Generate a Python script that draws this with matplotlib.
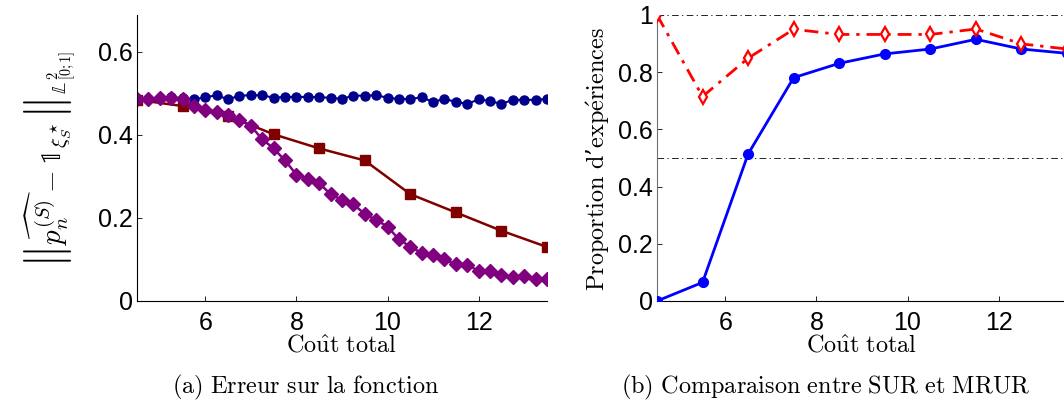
import matplotlib
matplotlib.use("Agg")
import matplotlib.pyplot as plt

plt.rcParams['mathtext.fontset'] = 'cm'
plt.rcParams['font.family'] = ['Liberation Sans', 'DejaVu Sans']

# --- (a) erreur sur la fonction ---
cout_fin = [4.5, 4.75, 5.0, 5.25, 5.5, 5.75, 6.0, 6.25, 6.5, 6.75, 7.0, 7.25,
            7.5, 7.75, 8.0, 8.25, 8.5, 8.75, 9.0, 9.25, 9.5, 9.75, 10.0, 10.25,
            10.5, 10.75, 11.0, 11.25, 11.5, 11.75, 12.0, 12.25, 12.5, 12.75,
            13.0, 13.25, 13.5]
cout_gros = [4.5, 5.5, 6.5, 7.5, 8.5, 9.5, 10.5, 11.5, 12.5, 13.5]

err_bleu = [0.485, 0.485, 0.488, 0.490, 0.488, 0.485, 0.490, 0.495, 0.485, 0.494,
            0.495, 0.495, 0.489, 0.491, 0.491, 0.491, 0.490, 0.489, 0.486, 0.494,
            0.494, 0.495, 0.489, 0.486, 0.486, 0.490, 0.479, 0.486, 0.479, 0.474,
            0.485, 0.481, 0.474, 0.484, 0.484, 0.484, 0.486]
err_rouge = [0.484, 0.469, 0.445, 0.401, 0.367, 0.338, 0.257, 0.213, 0.169, 0.130]
err_violet = [0.485, 0.485, 0.488, 0.489, 0.486, 0.469, 0.460, 0.454, 0.448, 0.436,
              0.421, 0.389, 0.367, 0.338, 0.304, 0.294, 0.283, 0.257, 0.243, 0.233,
              0.209, 0.195, 0.179, 0.148, 0.131, 0.115, 0.111, 0.100, 0.088, 0.087,
              0.072, 0.071, 0.063, 0.057, 0.059, 0.054, 0.052]

# --- (b) comparaison SUR / MRUR ---
prop_sur = [0.0, 0.065, 0.514, 0.781, 0.831, 0.864, 0.881, 0.915, 0.881, 0.866]
prop_mrur = [1.0, 0.715, 0.849, 0.950, 0.932, 0.932, 0.932, 0.951, 0.899, 0.881]
seuils = [1.0, 0.5]

W, H = 1064, 405
fig = plt.figure(figsize=(W / 100, H / 100), dpi=100)

ax1 = fig.add_axes([137 / W, 104 / H, 410 / W, 286 / H])
ax2 = fig.add_axes([657 / W, 104 / H, 410 / W, 286 / H])

ax1.plot(cout_fin, err_bleu, '-o', color='#00008b', lw=1.5, ms=6.5)
ax1.plot(cout_gros, err_rouge, '-s', color='#800000', lw=1.8, ms=6.5)
ax1.plot(cout_fin, err_violet, '-D', color='#800080', lw=1.8, ms=7.5)
ax1.set_ylim(0, 0.688)
ax1.set_yticks([0, 0.2, 0.4, 0.6])
ax1.set_yticklabels(['0', '0.2', '0.4', '0.6'])

for y in seuils:
    ax2.axhline(y, color='black', lw=0.6, ls=(0, (8, 4, 1.5, 4)), zorder=1)
ax2.plot(cout_gros, prop_sur, '-o', color='#0000ff', lw=2, ms=7, zorder=3)
ax2.plot(cout_gros, prop_mrur, ls=(0, (5, 2.5, 1.2, 2.5)), marker='d', color='#ff0000',
         lw=2, ms=7.5, mfc='white', mec='#ff0000', mew=1.6, zorder=4)
ax2.set_ylim(0, 1)
ax2.set_yticks([0, 0.2, 0.4, 0.6, 0.8, 1])
ax2.set_yticklabels(['0', '0.2', '0.4', '0.6', '0.8', '1'])

for ax in (ax1, ax2):
    ax.set_xlim(4.5, 13.5)
    ax.set_xticks([6, 8, 10, 12])
    ax.spines['top'].set_visible(False)
    ax.spines['right'].set_visible(False)
    ax.spines['bottom'].set_linewidth(0.8)
    ax.spines['left'].set_linewidth(0.8)
    ax.tick_params(direction='in', length=3.5, width=0.6, labelsize=18)
    ax.tick_params(axis='x', pad=7)
    ax.tick_params(axis='y', pad=3)
    for lab in ax.get_xticklabels() + ax.get_yticklabels():
        lab.set_family('Liberation Sans')
ax2.spines['left'].set_color('#707070')

# textes en style LaTeX
fig.text(342 / W, 1 - 352 / H, r'$\mathrm{Co\hat{u}t\ total}$', ha='center',
         va='baseline', fontsize=17.5)
fig.text(862 / W, 1 - 352 / H, r'$\mathrm{Co\hat{u}t\ total}$', ha='center',
         va='baseline', fontsize=17.5)
fig.text(306 / W, 1 - 393 / H, r'$\mathrm{(a)\ Erreur\ sur\ la\ fonction}$',
         ha='center', va='baseline', fontsize=17.5)
fig.text(826 / W, 1 - 393 / H, r'$\mathrm{(b)\ Comparaison\ entre\ SUR\ et\ MRUR}$',
         ha='center', va='baseline', fontsize=17.5)
fig.text(598 / W, 1 - 158.5 / H,
         r'$\mathrm{Proportion\ d}$' + '\u2019' + r'$\mathrm{exp\acute{e}riences}$',
         ha='center', va='center', rotation=90, fontsize=17.5, family='DejaVu Serif')
fig.text(50 / W, 1 - 159 / H,
         r'$\left\|\widehat{p_n^{(S)}} - \mathbb{1}_{\xi_S^\star}\right\|_{\mathbb{L}^2_{[0;1]}}$',
         ha='center', va='center', rotation=90, fontsize=21)

fig.savefig('out.png', dpi=100)
